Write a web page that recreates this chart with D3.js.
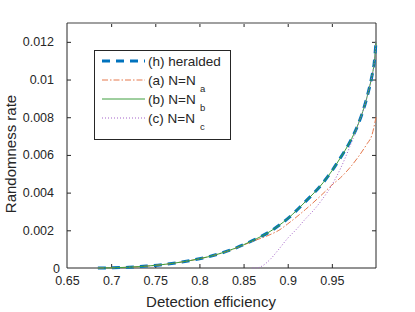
<!DOCTYPE html>
<html>
<head>
<meta charset="utf-8">
<script src="https://cdn.jsdelivr.net/npm/d3@7"></script>
<style>
  body { margin: 0; background: #fff; }
  text { font-family: "Liberation Sans", Arial, sans-serif; fill: #262626; }
</style>
</head>
<body>
<div id="chart"></div>
<script>
// data
var effH = [0.685, 0.70, 0.72, 0.74, 0.76, 0.78, 0.80, 0.82, 0.84, 0.86, 0.88, 0.90, 0.92, 0.94, 0.95, 0.96, 0.97, 0.98, 0.985, 0.99, 0.995, 0.998, 1.0];
var rateH = [0, 0.00001, 0.00004, 0.0001, 0.00019, 0.00032, 0.00049, 0.00072, 0.00104, 0.00145, 0.00194, 0.00262, 0.00352, 0.00452, 0.00515, 0.00587, 0.00665, 0.00765, 0.0083, 0.0091, 0.0101, 0.0109, 0.0120];

var effA = [0.685, 0.70, 0.72, 0.74, 0.76, 0.78, 0.80, 0.82, 0.84, 0.86, 0.88, 0.89, 0.90, 0.92, 0.94, 0.95, 0.96, 0.97, 0.98, 0.99, 0.995, 1.0];
var rateA = [0, 0.00001, 0.00004, 0.0001, 0.00019, 0.00032, 0.00049, 0.00072, 0.00103, 0.00141, 0.00177, 0.002, 0.00234, 0.0031, 0.00395, 0.0044, 0.0048, 0.0053, 0.0059, 0.0066, 0.0070, 0.0080];

var effB = [0.685, 0.70, 0.72, 0.74, 0.76, 0.78, 0.80, 0.82, 0.84, 0.86, 0.88, 0.90, 0.92, 0.94, 0.95, 0.96, 0.97, 0.98, 0.985, 0.99, 0.995, 0.998, 1.0];
var rateB = [0, 0.00001, 0.00004, 0.0001, 0.00019, 0.00032, 0.00049, 0.00072, 0.00104, 0.00145, 0.00194, 0.00262, 0.00352, 0.00452, 0.00515, 0.00587, 0.00665, 0.00765, 0.0083, 0.0091, 0.0101, 0.0109, 0.0120];

var effC = [0.86, 0.865, 0.87, 0.88, 0.89, 0.90, 0.91, 0.92, 0.93, 0.94, 0.95, 0.96, 0.97, 0.975, 0.98, 0.985, 0.99, 0.995, 0.998, 1.0];
var rateC = [0, 0, 0.00008, 0.00045, 0.001, 0.00158, 0.00206, 0.0026, 0.0031, 0.0037, 0.0044, 0.0053, 0.0064, 0.0070, 0.00765, 0.0083, 0.0091, 0.0101, 0.0109, 0.0120];

var xTicks = [0.65, 0.7, 0.75, 0.8, 0.85, 0.9, 0.95];
var yTicks = [0, 0.002, 0.004, 0.006, 0.008, 0.01, 0.012];

var series = [
  { label: "(h) heralded", sub: "", x: effH, y: rateH, color: "#0072BD", width: 3, dash: "8,6" },
  { label: "(a) N=N", sub: "a", x: effA, y: rateA, color: "#E5784C", width: 1, dash: "6,2,1.5,2" },
  { label: "(b) N=N", sub: "b", x: effB, y: rateB, color: "#3E9E3E", width: 1, dash: null },
  { label: "(c) N=N", sub: "c", x: effC, y: rateC, color: "#A463C9", width: 1, dash: "1,2" }
];

// styling
var svgWidth = 415;
var svgHeight = 312;
var margin = { top: 23, right: 39, bottom: 44, left: 67 };
var width = svgWidth - margin.left - margin.right;
var height = svgHeight - margin.top - margin.bottom;

var svg = d3.select("#chart")
  .append("svg")
  .attr("width", svgWidth)
  .attr("height", svgHeight);

var chartGroup = svg.append("g")
  .attr("transform", `translate(${margin.left}, ${margin.top})`);

var xScale = d3.scaleLinear().domain([0.65, 1.0]).range([0, width]);
var yScale = d3.scaleLinear().domain([0, 0.013]).range([height, 0]);

// ticks (inward, all four sides)
var fmtX = d => String(+d.toFixed(2));
var fmtY = d => String(+d.toFixed(3));

var xAxis = chartGroup.append("g")
  .attr("transform", `translate(0, ${height})`)
  .call(d3.axisBottom(xScale).tickValues(xTicks).tickSizeInner(-4).tickSizeOuter(0).tickPadding(8).tickFormat(fmtX));
xAxis.selectAll("text").attr("font-size", "12.5px").attr("fill", "#262626");

var xAxisTop = chartGroup.append("g")
  .call(d3.axisTop(xScale).tickValues(xTicks).tickSizeInner(-4).tickSizeOuter(0).tickFormat(""));

var yAxis = chartGroup.append("g")
  .call(d3.axisLeft(yScale).tickValues(yTicks).tickSizeInner(-4).tickSizeOuter(0).tickPadding(13).tickFormat(fmtY));
yAxis.selectAll("text").attr("font-size", "12.5px").attr("fill", "#262626")
  .attr("dx", d => d === 0 ? 6 : 0);

var yAxisRight = chartGroup.append("g")
  .attr("transform", `translate(${width}, 0)`)
  .call(d3.axisRight(yScale).tickValues(yTicks).tickSizeInner(-4).tickSizeOuter(0).tickFormat(""));

chartGroup.selectAll(".domain").remove();
chartGroup.selectAll(".tick line").attr("stroke", "#262626");
xAxis.selectAll(".tick").filter(d => d === 0.65).select("line").remove();
xAxisTop.selectAll(".tick").filter(d => d === 0.65).select("line").remove();
yAxis.selectAll(".tick").filter(d => d === 0).select("line").remove();
yAxisRight.selectAll(".tick").filter(d => d === 0).select("line").remove();

// box
chartGroup.append("line").attr("x1", 0).attr("x2", width).attr("y1", 0).attr("y2", 0)
  .attr("stroke", "#a0a0a0").attr("stroke-width", 2);
chartGroup.append("line").attr("x1", 0).attr("x2", width).attr("y1", height).attr("y2", height)
  .attr("stroke", "#262626");
chartGroup.append("line").attr("x1", 0).attr("x2", 0).attr("y1", 0).attr("y2", height)
  .attr("stroke", "#262626");
chartGroup.append("line").attr("x1", width).attr("x2", width).attr("y1", 0).attr("y2", height)
  .attr("stroke", "#262626");

// curves
var line = d3.line()
  .x(d => xScale(d[0]))
  .y(d => yScale(d[1]))
  .curve(d3.curveMonotoneX);

series.forEach(function(s) {
  var pts = s.x.map((v, i) => [v, s.y[i]]);
  chartGroup.append("path")
    .datum(pts)
    .attr("d", line)
    .attr("fill", "none")
    .attr("stroke", s.color)
    .attr("stroke-width", s.width)
    .attr("stroke-dasharray", s.dash);
});

// axis labels
svg.append("text")
  .attr("x", 211)
  .attr("y", 307)
  .attr("text-anchor", "middle")
  .attr("font-size", "15px")
  .text("Detection efficiency");

svg.append("text")
  .attr("transform", "translate(16, 154) rotate(-90)")
  .attr("text-anchor", "middle")
  .attr("font-size", "15px")
  .text("Randomness rate");

// legend
var legend = svg.append("g").attr("transform", "translate(94, 50)");
legend.append("rect")
  .attr("x", 0.5).attr("y", 0.5)
  .attr("width", 136).attr("height", 89)
  .attr("fill", "#fff")
  .attr("stroke", "#262626");

series.forEach(function(s, i) {
  var yy = 11 + i * 19;
  legend.append("line")
    .attr("x1", 8).attr("x2", 51)
    .attr("y1", yy).attr("y2", yy)
    .attr("stroke", s.color)
    .attr("stroke-width", s.width)
    .attr("stroke-dasharray", s.dash);
  legend.append("text")
    .attr("x", 54)
    .attr("y", yy + 5)
    .attr("font-size", "13.5px")
    .text(s.label);
  if (s.sub) {
    legend.append("text")
      .attr("x", 106)
      .attr("y", yy + 12)
      .attr("font-size", "9.5px")
      .text(s.sub);
  }
});
</script>
</body>
</html>
